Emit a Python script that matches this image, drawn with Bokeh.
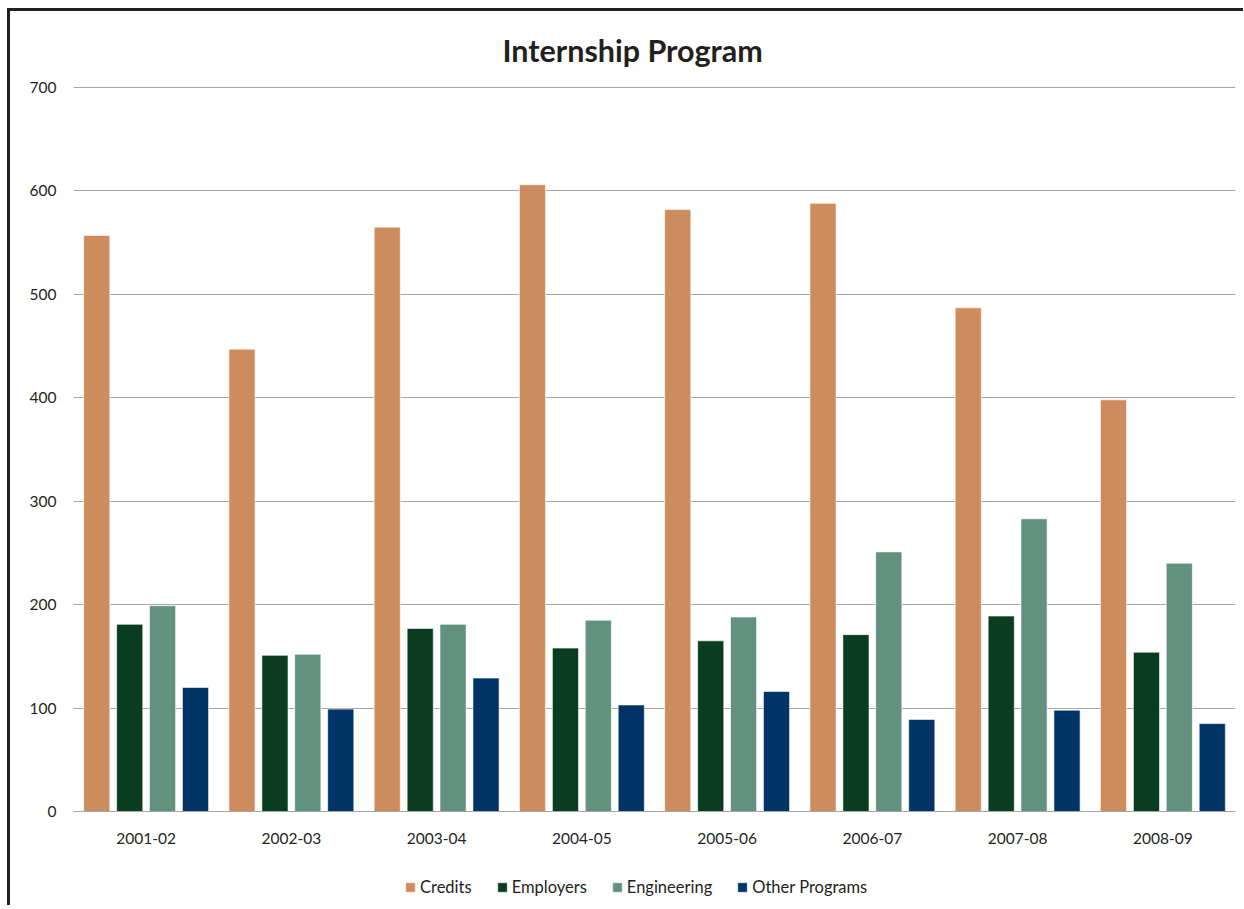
from bokeh.plotting import figure
from bokeh.models import FactorRange, Range1d, FixedTicker, Legend, LegendItem, Title
from bokeh.transform import dodge
from bokeh.embed import file_html
from bokeh.resources import INLINE
from bokeh.models import ColumnDataSource

years = ["2001-02", "2002-03", "2003-04", "2004-05", "2005-06", "2006-07", "2007-08", "2008-09"]
credits = [557, 447, 565, 606, 582, 588, 487, 398]
employers = [181, 151, 177, 158, 165, 171, 189, 154]
engineering = [199, 152, 181, 185, 188, 251, 283, 240]
other_programs = [120, 99, 129, 103, 116, 89, 98, 85]
series_names = ["Credits", "Employers", "Engineering", "Other Programs"]
colors = ["#CD8C5E", "#0A3D20", "#62917F", "#003366"]
y_ticks = [0, 100, 200, 300, 400, 500, 600, 700]

src = ColumnDataSource(dict(years=years, credits=credits, employers=employers,
                            engineering=engineering, other=other_programs))

FONT = "Lato"
TEXT = "#231f20"

# the plot frame reaches down below the zero line so that the category labels
# and the legend sit inside it (the value axis only shows 0..700)
p = figure(x_range=FactorRange(*years, range_padding=0), y_range=Range1d(-90.9, 701),
           frame_width=1162, frame_height=819, output_backend="svg", toolbar_location=None,
           min_border_left=63, min_border_right=8, min_border_top=75, min_border_bottom=0)
p.styles = {"margin-left": "7px", "margin-top": "8px",
            "border-left": "3px solid #231f20", "border-top": "3px solid #231f20"}

p.title = Title(text="Internship Program", align="left", offset=429,
                text_font=FONT, text_font_size="30.5px", text_font_style="bold",
                text_color=TEXT, standoff=37)

fields = ["credits", "employers", "engineering", "other"]
offsets = [-0.34, -0.113, 0.113, 0.34]
renderers = []
for f, off, c in zip(fields, offsets, colors):
    r = p.vbar(x=dodge("years", off, range=p.x_range), top=f, width=0.18, source=src,
               fill_color=c, line_color="#ffffff", line_alpha=0.6, line_width=1)
    renderers.append(r)

items = [LegendItem(label=n, renderers=[r]) for n, r in zip(series_names, renderers)]
legend = Legend(items=items, orientation="horizontal", location=(331, 8),
                label_text_font=FONT, label_text_font_size="16.5px", label_text_color=TEXT,
                glyph_width=12, glyph_height=12, label_standoff=4, spacing=24,
                padding=0, margin=0, border_line_color=None, background_fill_alpha=0)
p.add_layout(legend)

p.xgrid.grid_line_color = None
p.ygrid.grid_line_color = "#a6a6a6"
p.ygrid.grid_line_width = 1
p.yaxis.ticker = FixedTicker(ticks=y_ticks)
p.yaxis.axis_line_color = None
p.yaxis.major_tick_line_color = None
p.yaxis.minor_tick_line_color = None
p.yaxis.major_tick_out = 0
p.yaxis.major_tick_in = 0
p.yaxis.major_label_standoff = 17
p.xaxis.fixed_location = 0
p.xaxis.axis_line_color = "#a6a6a6"
p.xaxis.major_tick_line_color = None
p.xaxis.major_tick_out = 0
p.xaxis.major_tick_in = 0
p.xaxis.major_label_standoff = 22
for ax in (p.xaxis, p.yaxis):
    ax.major_label_text_font = FONT
    ax.major_label_text_font_size = "15.5px"
    ax.major_label_text_color = TEXT
p.outline_line_color = None
p.background_fill_color = "white"
p.border_fill_color = "white"

open("out.html", "w").write(file_html(p, INLINE))
